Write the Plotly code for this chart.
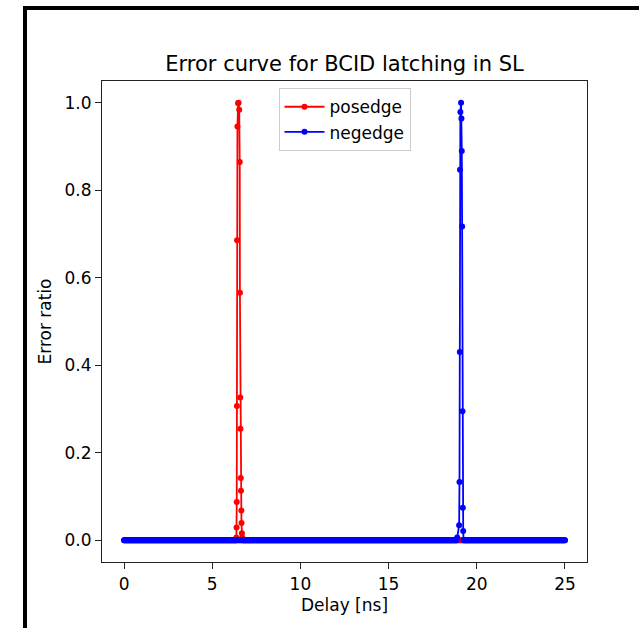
import numpy as np
import plotly.graph_objects as go

# ---- data ----
delay_start = 0.0
delay_stop = 25.0
delay_step = 0.05

pos_peak_delay = [6.37, 6.38, 6.39, 6.40, 6.41, 6.43, 6.47, 6.49, 6.53, 6.56, 6.57,
                  6.59, 6.60, 6.62, 6.63, 6.65, 6.66, 6.68, 6.70]
pos_peak_error = [0.006, 0.029, 0.087, 0.307, 0.686, 0.946, 0.999, 1.0, 0.984, 0.865, 0.566,
                  0.326, 0.255, 0.142, 0.113, 0.068, 0.039, 0.016, 0.006]

neg_peak_delay = [18.89, 19.00, 19.02, 19.04, 19.05, 19.07, 19.11, 19.13, 19.15, 19.17,
                  19.19, 19.21, 19.23]
neg_peak_error = [0.006, 0.034, 0.133, 0.43, 0.847, 0.979, 1.0, 0.964, 0.89, 0.717,
                  0.295, 0.074, 0.021]

x_ticks = [0, 5, 10, 15, 20, 25]
y_ticks = [0.0, 0.2, 0.4, 0.6, 0.8, 1.0]


def build_series(peak_x, peak_y):
    grid = np.round(np.arange(delay_start, delay_stop + delay_step / 2, delay_step), 4)
    lo, hi = min(peak_x), max(peak_x)
    base = [g for g in grid if g < lo or g > hi]
    xs = list(base) + list(peak_x)
    ys = [0.0] * len(base) + list(peak_y)
    order = np.argsort(xs, kind="stable")
    return [xs[i] for i in order], [ys[i] for i in order]


pos_x, pos_y = build_series(pos_peak_delay, pos_peak_error)
neg_x, neg_y = build_series(neg_peak_delay, neg_peak_error)

FONT = "DejaVu Sans"

fig = go.Figure()
fig.add_trace(go.Scatter(x=pos_x, y=pos_y, mode="lines+markers", name="posedge",
                         line=dict(color="red", width=1.8),
                         marker=dict(color="red", size=6)))
fig.add_trace(go.Scatter(x=neg_x, y=neg_y, mode="lines+markers", name="negedge",
                         line=dict(color="blue", width=1.8),
                         marker=dict(color="blue", size=6)))

W, H = 639, 628
L, R, T, B = 102, 52, 81, 66
pw, ph = W - L - R, H - T - B


def px_to_paper_x(px):
    return (px - L) / pw


def px_to_paper_y(py):
    return (H - B - py) / ph


fig.update_layout(
    width=W, height=H,
    margin=dict(l=L, r=R, t=T, b=B, pad=0),
    paper_bgcolor="white", plot_bgcolor="white",
    font=dict(family=FONT, size=17, color="black"),
    title=dict(text="Error curve for BCID latching in SL", x=0.5, xref="paper",
               y=1 - 64 / H, yref="container", yanchor="middle", xanchor="center",
               font=dict(family=FONT, size=21, color="black")),
    showlegend=True,
    legend=dict(x=0.5, xanchor="center", y=0.985, yanchor="top",
                bgcolor="rgba(255,255,255,0.8)", bordercolor="#cccccc", borderwidth=1,
                font=dict(family=FONT, size=17, color="black"),
                itemwidth=40, tracegroupgap=0),
    xaxis=dict(range=[-1.25, 26.25], tickvals=x_ticks, ticktext=[str(v) for v in x_ticks],
               showgrid=False, zeroline=False, showline=True, mirror=True,
               linecolor="#222222", linewidth=1.2, ticks="outside", ticklen=6,
               tickcolor="#222222", tickwidth=1.2,
               tickfont=dict(size=17),
               title=dict(text="Delay [ns]", standoff=6, font=dict(size=17))),
    yaxis=dict(range=[-0.05, 1.05], tickvals=y_ticks, ticktext=[f"{v:.1f}" for v in y_ticks],
               showgrid=False, zeroline=False, showline=True, mirror=True,
               linecolor="#222222", linewidth=1.2, ticks="outside", ticklen=6,
               tickcolor="#222222", tickwidth=1.2,
               tickfont=dict(size=17),
               title=dict(text="Error ratio", standoff=8, font=dict(size=17))),
)

# outer black frame (left and top edges visible in the reference crop)
fig.add_shape(type="line", xref="paper", yref="paper",
              x0=px_to_paper_x(25), x1=px_to_paper_x(25),
              y0=px_to_paper_y(6), y1=px_to_paper_y(640),
              line=dict(color="black", width=4))
fig.add_shape(type="line", xref="paper", yref="paper",
              x0=px_to_paper_x(23), x1=px_to_paper_x(650),
              y0=px_to_paper_y(8), y1=px_to_paper_y(8),
              line=dict(color="black", width=4))

fig.write_html("out.html")
